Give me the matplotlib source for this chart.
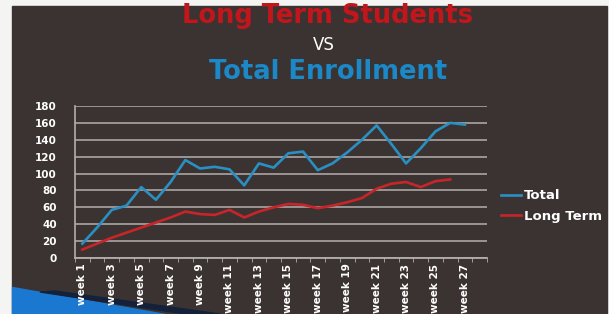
import matplotlib
matplotlib.use("Agg")
import matplotlib.pyplot as plt
from matplotlib.patches import Rectangle, Polygon

weeks = ["week 1", "week 2", "week 3", "week 4", "week 5", "week 6", "week 7",
         "week 8", "week 9", "week 10", "week 11", "week 12", "week 13", "week 14",
         "week 15", "week 16", "week 17", "week 18", "week 19", "week 20", "week 21",
         "week 22", "week 23", "week 24", "week 25", "week 26", "week 27", "week 28"]
total = [17, 36, 57, 62, 84, 69, 90, 116, 106, 108, 105, 86, 112, 107,
         124, 126, 104, 112, 125, 140, 157, 135, 112, 130, 150, 160, 158]
long_term = [10, 17, 24, 30, 36, 42, 48, 55, 52, 51, 57, 48, 55, 60,
             64, 63, 59, 62, 66, 71, 82, 88, 90, 84, 91, 93]
y_ticks = [0, 20, 40, 60, 80, 100, 120, 140, 160, 180]

W, H = 609, 314
bg = "#3b3331"
fig = plt.figure(figsize=(W / 100, H / 100), dpi=100)
fig.patch.set_facecolor("#f4f4f2")

def fx(px):
    return px / W

def fy(py):
    return 1 - py / H

# slide background (photo of screen)
fig.patches.append(Rectangle((fx(12), 0), fx(607) - fx(12), fy(6),
                             transform=fig.transFigure, color=bg, zorder=-10))
# blue swoosh bottom-left
fig.patches.append(Polygon([(fx(12), fy(287)), (fx(12), 0), (fx(165), 0)],
                           closed=True, transform=fig.transFigure,
                           color="#1b78d0", zorder=-9))
fig.patches.append(Polygon([(fx(55), fy(291)), (fx(220), 0), (fx(185), 0), (fx(40), fy(292))],
                           closed=True, transform=fig.transFigure,
                           color="#14213a", zorder=-9))

# titles
fig.text(fx(328), fy(16), "Long Term Students", color="#c2161c", fontsize=18.5,
         fontweight="bold", family="DejaVu Sans", ha="center", va="center")
fig.text(fx(324), fy(45), "VS", color="white", fontsize=12,
         family="DejaVu Sans", ha="center", va="center")
fig.text(fx(328), fy(72), "Total Enrollment", color="#1b88c8", fontsize=18.5,
         fontweight="bold", family="DejaVu Sans", ha="center", va="center")

ax = fig.add_axes([fx(75), fy(258), fx(487) - fx(75), fy(106) - fy(258)])
ax.set_facecolor("none")

x_total = list(range(len(total)))
x_long = list(range(len(long_term)))
ax.plot(x_total, total, color="#2a8fc2", lw=1.9, label="Total", zorder=3)
ax.plot(x_long, long_term, color="#c8252a", lw=1.9, label="Long Term", zorder=3)

ax.set_xlim(-0.5, len(weeks) - 0.5)
ax.set_ylim(0, 180)
ax.set_yticks(y_ticks)
ax.set_yticklabels([str(v) for v in y_ticks], color="white", fontsize=7.5,
                   fontweight="bold", family="DejaVu Sans")
ax.grid(axis="y", color="#b3aeac", lw=1.3, alpha=0.85)
ax.set_axisbelow(True)

ax.set_xticks(range(0, len(weeks), 2))
ax.set_xticklabels(weeks[::2], rotation=90, color="white", fontsize=7.5,
                   fontweight="bold", family="Liberation Sans Narrow")
ax.set_xticks([i - 0.5 for i in range(len(weeks) + 1)], minor=True)
ax.tick_params(axis="x", which="major", length=0, pad=4)
ax.tick_params(axis="x", which="minor", length=3, color="#b3aeac")
ax.tick_params(axis="y", length=0, pad=13)

for s in ["top", "right"]:
    ax.spines[s].set_visible(False)
ax.spines["left"].set_color("#b3aeac")
ax.spines["bottom"].set_color("#b3aeac")
ax.spines["left"].set_linewidth(1.2)
ax.spines["bottom"].set_linewidth(1.3)

leg = fig.legend(loc="upper left", bbox_to_anchor=(fx(496), fy(184)),
                 frameon=False, handlelength=1.5, handletextpad=0.2,
                 labelspacing=0.55, borderaxespad=0,
                 prop={"family": "DejaVu Sans", "weight": "bold", "size": 9.5})
for t in leg.get_texts():
    t.set_color("white")

fig.savefig("out.png", dpi=100, facecolor=fig.get_facecolor())
